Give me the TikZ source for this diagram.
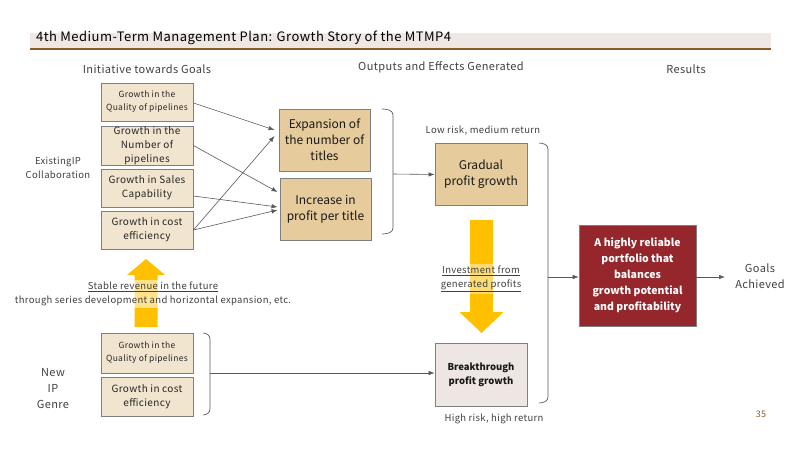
\documentclass[tikz,border=0pt]{standalone}
\usepackage{fontspec}
\setmainfont{Noto Sans CJK JP}[LetterSpace=3.5]
\usetikzlibrary{arrows.meta,calc}
\definecolor{titlebg}{HTML}{EFE7E3}
\definecolor{titleline}{HTML}{8B5A2B}
\definecolor{boxlight}{HTML}{F2E5CF}
\definecolor{boxmid}{HTML}{E6CB9C}
\definecolor{boxpink}{HTML}{EDE6E2}
\definecolor{redbox}{HTML}{95262C}
\definecolor{yel}{HTML}{FFC000}
\definecolor{lgray}{HTML}{595959}
\definecolor{tgray}{HTML}{404040}
\definecolor{bordergray}{HTML}{7F7F7F}
\definecolor{pagenum}{HTML}{8B5A2B}
\begin{document}
\begin{tikzpicture}[x=1pt,y=-1pt,
  smallbox/.style={draw=bordergray,line width=0.9pt,fill=boxlight,minimum width=92pt,minimum height=38pt,inner sep=0pt,align=center,text=black!85},
  midbox/.style={draw=bordergray,line width=0.9pt,fill=boxmid,minimum width=91pt,minimum height=62pt,inner sep=0pt,align=center,font=\addfontfeature{LetterSpace=0}\fontsize{12}{16}\selectfont,text=black!90},
  conn/.style={draw=lgray,line width=0.6pt,-{Latex[length=6pt,width=4.5pt]}},
  brk/.style={draw=lgray,line width=0.7pt},
  lbl/.style={text=tgray,align=center,inner sep=0pt}
]
\useasboundingbox (0,0) rectangle (800,449);
% title bar
\fill[titlebg] (30,33) rectangle (771,48);
\draw[titleline,line width=1.6pt] (30,49) -- (771,49);
\node[anchor=west,inner sep=0pt,font=\fontsize{13}{13}\selectfont] (title) at (36,38) {4th Medium-Term Management Plan: Growth Story of the MTMP4};
% headers
\node[lbl,font=\fontsize{11}{12}\selectfont] (h1) at (147,69) {Initiative towards Goals};
\node[lbl,font=\fontsize{11}{12}\selectfont] (h2) at (441,67) {Outputs and Effects Generated};
\node[lbl,font=\fontsize{11}{12}\selectfont] (h3) at (686,69) {Results};
% side labels
\node[lbl,font=\fontsize{9.5}{14}\selectfont] (exist) at (58,168) {ExistingIP\\Collaboration};
\node[lbl,font=\fontsize{11}{16}\selectfont] (newip) at (53,389) {New\\IP\\Genre};
% left boxes
\node[smallbox,font=\fontsize{8.5}{13}\selectfont] (b1) at (147,102) {Growth in the\\Quality of pipelines};
\node[smallbox,minimum height=39pt,font=\fontsize{10}{14}\selectfont] (b2) at (147,145.5) {Growth in the\\Number of\\pipelines};
\node[smallbox,font=\fontsize{10}{14}\selectfont] (b3) at (147,188) {Growth in Sales\\Capability};
\node[smallbox,font=\fontsize{10}{14}\selectfont] (b4) at (147,230) {Growth in cost\\efficiency};
\node[smallbox,minimum height=40pt,font=\fontsize{8.5}{13}\selectfont] (b5) at (147,353) {Growth in the\\Quality of pipelines};
\node[smallbox,minimum height=39pt,font=\fontsize{10}{14}\selectfont] (b6) at (147,396.5) {Growth in cost\\efficiency};
% middle boxes
\node[midbox] (A) at (324.5,140) {Expansion of\\the number of\\titles};
\node[midbox] (B) at (325.5,209) {Increase in\\profit per title};
\node[midbox,minimum width=92pt] (G) at (481,174.5) {Gradual\\profit growth};
\node[midbox,minimum width=92pt,minimum height=63pt,fill=boxpink,font=\addfontfeature{LetterSpace=0}\bfseries\fontsize{9.5}{14}\selectfont] (BT) at (481,374.5) {Breakthrough\\profit growth};
% red box
\node[draw=bordergray,line width=0.6pt,fill=redbox,minimum width=117pt,minimum height=101pt,inner sep=0pt,align=center,text=white,font=\addfontfeature{LetterSpace=0}\bfseries\fontsize{10.5}{16}\selectfont] (R) at (637.5,275.5) {A highly reliable\\portfolio that\\balances\\growth potential\\and profitability};
\node[lbl,font=\fontsize{11}{16}\selectfont] (goal) at (760,276) {Goals\\Achieved};
% risk labels
\node[lbl,font=\fontsize{9.5}{11}\selectfont] (low) at (483,131) {Low risk, medium return};
\node[lbl,font=\fontsize{9.5}{11}\selectfont] (high) at (494,419) {High risk, high return};
\node[lbl,font=\fontsize{9}{11}\selectfont,text=pagenum] (pg) at (761,414) {35};
% connectors left -> middle
\draw[conn] ($(b1.east)+(0,1)$) -- ($(A.west)+(-4,-10)$);
\draw[conn] (b2.east) -- ($(B.west)+(-2,-17)$);
\draw[conn] ($(b3.east)+(0,8)$) -- ($(B.west)+(-2,-2)$);
\draw[conn] (b4.east) -- ($(A.west)+(-4,-4)$);
\draw[conn] (b4.east) -- ($(B.west)+(-2,1)$);
% bracket 1
\draw[brk] (382,109) to[out=0,in=90] (393,115) -- (393,228) to[out=-90,in=0] (382,234);
\coordinate (k1) at (393,174);
\draw[conn] (k1) -- (G.west);
% bracket 2
\draw[brk] (539,143) to[out=0,in=90] (548,149) -- (548,397) to[out=-90,in=0] (539,403);
\coordinate (k2) at (548,277);
\draw[conn] (k2) -- ($(R.west)+(0,1.5)$);
\coordinate (k4) at (725,277);
\draw[conn] ($(R.east)+(0,1.5)$) -- (k4);
% bracket 3
\draw[brk] (203,333) to[out=0,in=90] (210,339) -- (210,409) to[out=-90,in=0] (203,415);
\coordinate (k3) at (210,373);
\draw[conn] (k3) -- ($(BT.west)+(0,-1.5)$);
% yellow arrows
\fill[yel] (134.5,327) -- (134.5,275) -- (127,275) -- (146,259) -- (165,275) -- (157.5,275) -- (157.5,327) -- cycle;
\fill[yel] (470,220) -- (493,220) -- (493,312) -- (503.5,312) -- (481.5,333) -- (459.5,312) -- (470,312) -- cycle;
% labels over arrows
\node[lbl,fill=white,fill opacity=0.55,text opacity=1,font=\fontsize{9.5}{14}\selectfont,inner ysep=2pt] (stable) at (153,294) {\underline{Stable revenue in the future}\\through series development and horizontal expansion, etc.};
\node[lbl,fill=white,fill opacity=0.45,text opacity=1,font=\fontsize{9.5}{13.5}\selectfont,inner ysep=2pt] (inv) at (481,279) {\underline{Investment from}\\\underline{generated profits}};
\end{tikzpicture}
\end{document}
